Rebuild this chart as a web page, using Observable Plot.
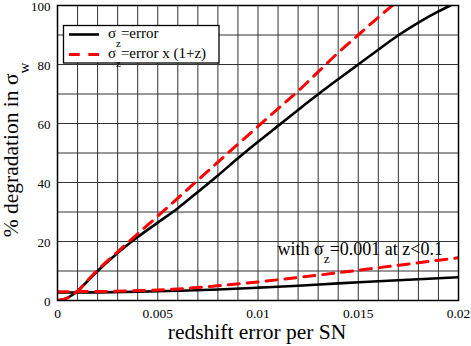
<!DOCTYPE html>
<html><head><meta charset="utf-8">
<script src="https://cdn.jsdelivr.net/npm/d3@7"></script>
<script src="https://cdn.jsdelivr.net/npm/@observablehq/plot@0.6"></script>
<style>body{margin:0;background:#fff;} svg{display:block}</style>
</head><body><div id="chart"></div>
<script>
// ---- data ----
const xTicks = [0, 0.005, 0.01, 0.015, 0.02];
const yTicks = [0, 20, 40, 60, 80, 100];
const xTitle = "redshift error per SN";
const yTitle = "% degradation in σ_w";
const annotation = "with σ_z=0.001 at z<0.1";
const seriesNames = ["σ_z=error", "σ_z=error x (1+z)"];
const seriesColors = ["black", "red"];

const blackX = [0, 0.0005, 0.001, 0.0015, 0.002, 0.003, 0.004, 0.005, 0.006, 0.007, 0.008, 0.009, 0.010, 0.011, 0.012, 0.013, 0.014, 0.015, 0.016, 0.017, 0.018, 0.019, 0.0196];
const blackY = [0, 0.9, 3.2, 6.6, 10, 16.1, 21.5, 26.4, 31.3, 36.8, 42.4, 48.2, 53.8, 59.2, 64.6, 69.9, 75, 80, 85, 89.9, 94.2, 98, 100];

const redX = [0, 0.0005, 0.001, 0.0015, 0.002, 0.003, 0.004, 0.005, 0.006, 0.007, 0.008, 0.009, 0.010, 0.011, 0.012, 0.013, 0.014, 0.015, 0.016, 0.0167];
const redY = [0, 0.9, 3.2, 6.8, 10.3, 16.5, 22.6, 28.6, 34.7, 40.8, 46.9, 53, 59, 65, 71, 77.5, 84, 90, 96, 100];

const lowX = [0, 0.002, 0.004, 0.006, 0.008, 0.010, 0.012, 0.014, 0.016, 0.018, 0.020];
const lowBlackY = [2.7, 2.75, 2.95, 3.3, 3.75, 4.35, 5.0, 5.8, 6.5, 7.2, 7.9];
const lowRedY = [3.0, 3.05, 3.35, 3.9, 5.0, 6.3, 7.8, 9.4, 11.1, 12.8, 14.5];

const toPts = (xs, ys) => xs.map((x, i) => ({x, y: ys[i]}));
const FONT = "'Liberation Serif', 'Times New Roman', serif";
const DASH = "11,8";

const chart = Plot.plot({
  width: 471, height: 346,
  marginLeft: 57, marginRight: 13, marginTop: 5, marginBottom: 46,
  style: {fontFamily: FONT, fontSize: "13.5px", background: "white", color: "black"},
  x: {domain: [0, 0.02]},
  y: {domain: [0, 100]},
  marks: [
    Plot.gridX({ticks: 20, stroke: "#333", strokeOpacity: 1, strokeWidth: 1}),
    Plot.gridY({ticks: 10, stroke: "#333", strokeOpacity: 1, strokeWidth: 1}),
    Plot.line(toPts(blackX, blackY), {x: "x", y: "y", stroke: seriesColors[0], strokeWidth: 2.6, curve: "monotone-x", clip: true}),
    Plot.line(toPts(lowX, lowBlackY), {x: "x", y: "y", stroke: seriesColors[0], strokeWidth: 2.6, curve: "monotone-x", clip: true}),
    Plot.line(toPts(redX, redY), {x: "x", y: "y", stroke: seriesColors[1], strokeWidth: 3, strokeDasharray: DASH, curve: "monotone-x", clip: true}),
    Plot.line(toPts(lowX, lowRedY), {x: "x", y: "y", stroke: seriesColors[1], strokeWidth: 3, strokeDasharray: DASH, curve: "monotone-x", clip: true}),
    Plot.frame({stroke: "black", strokeWidth: 1.5}),
    Plot.axisX({ticks: xTicks, tickSize: 0, tickPadding: 8, tickFormat: d => String(d), label: null, fontSize: 13.5}),
    Plot.axisY({ticks: yTicks, tickSize: 0, tickPadding: 7, tickFormat: d => String(d), label: null, fontSize: 13, dy: 1.5})
  ]
});
document.getElementById("chart").append(chart);
const svg = d3.select(chart);

// text with "_x" subscripts; shift in px
function richText(sel, str, fontSize, shiftPx, subScale) {
  const parts = str.split(/_(\w)/);
  let pending = 0;
  parts.forEach((p, i) => {
    if (!p) return;
    if (i % 2 === 1) {
      sel.append("tspan").attr("dy", shiftPx).attr("font-size", fontSize * subScale).text(p);
      pending = -shiftPx;
    } else {
      const t = sel.append("tspan").text(p);
      if (pending) { t.attr("dy", pending); pending = 0; }
    }
  });
  return sel;
}

// axis titles
svg.append("text").attr("x", 257).attr("y", 339).attr("text-anchor", "middle")
  .attr("font-family", FONT).attr("font-size", 21.5).attr("fill", "black").text(xTitle);
const yt = svg.append("text").attr("transform", "translate(18,150) rotate(-90)").attr("text-anchor", "middle")
  .attr("font-family", FONT).attr("font-size", 21.5).attr("fill", "black");
richText(yt, yTitle, 21.5, 11, 0.7);

// annotation
const an = svg.append("text").attr("x", 443).attr("y", 255).attr("text-anchor", "end")
  .attr("font-family", FONT).attr("font-size", 18).attr("fill", "black");
richText(an, annotation, 18, 8, 0.75);

// legend
const lg = svg.append("g");
lg.append("rect").attr("x", 63.5).attr("y", 25.5).attr("width", 155.5).attr("height", 37.5)
  .attr("fill", "white").attr("stroke", "black").attr("stroke-width", 1.3);
seriesNames.forEach((name, i) => {
  const ly = 34.5 + i * 20;
  lg.append("line").attr("x1", 69).attr("x2", 99).attr("y1", ly).attr("y2", ly)
    .attr("stroke", seriesColors[i]).attr("stroke-width", i ? 3 : 2.6)
    .attr("stroke-dasharray", i ? "10.7,8.7" : null);
  const t = lg.append("text").attr("x", 108).attr("y", ly + 3.5).attr("text-anchor", "start")
    .attr("font-family", FONT).attr("font-size", 15).attr("fill", "black");
  richText(t, name, 15, 9, 0.72);
});
</script></body></html>
